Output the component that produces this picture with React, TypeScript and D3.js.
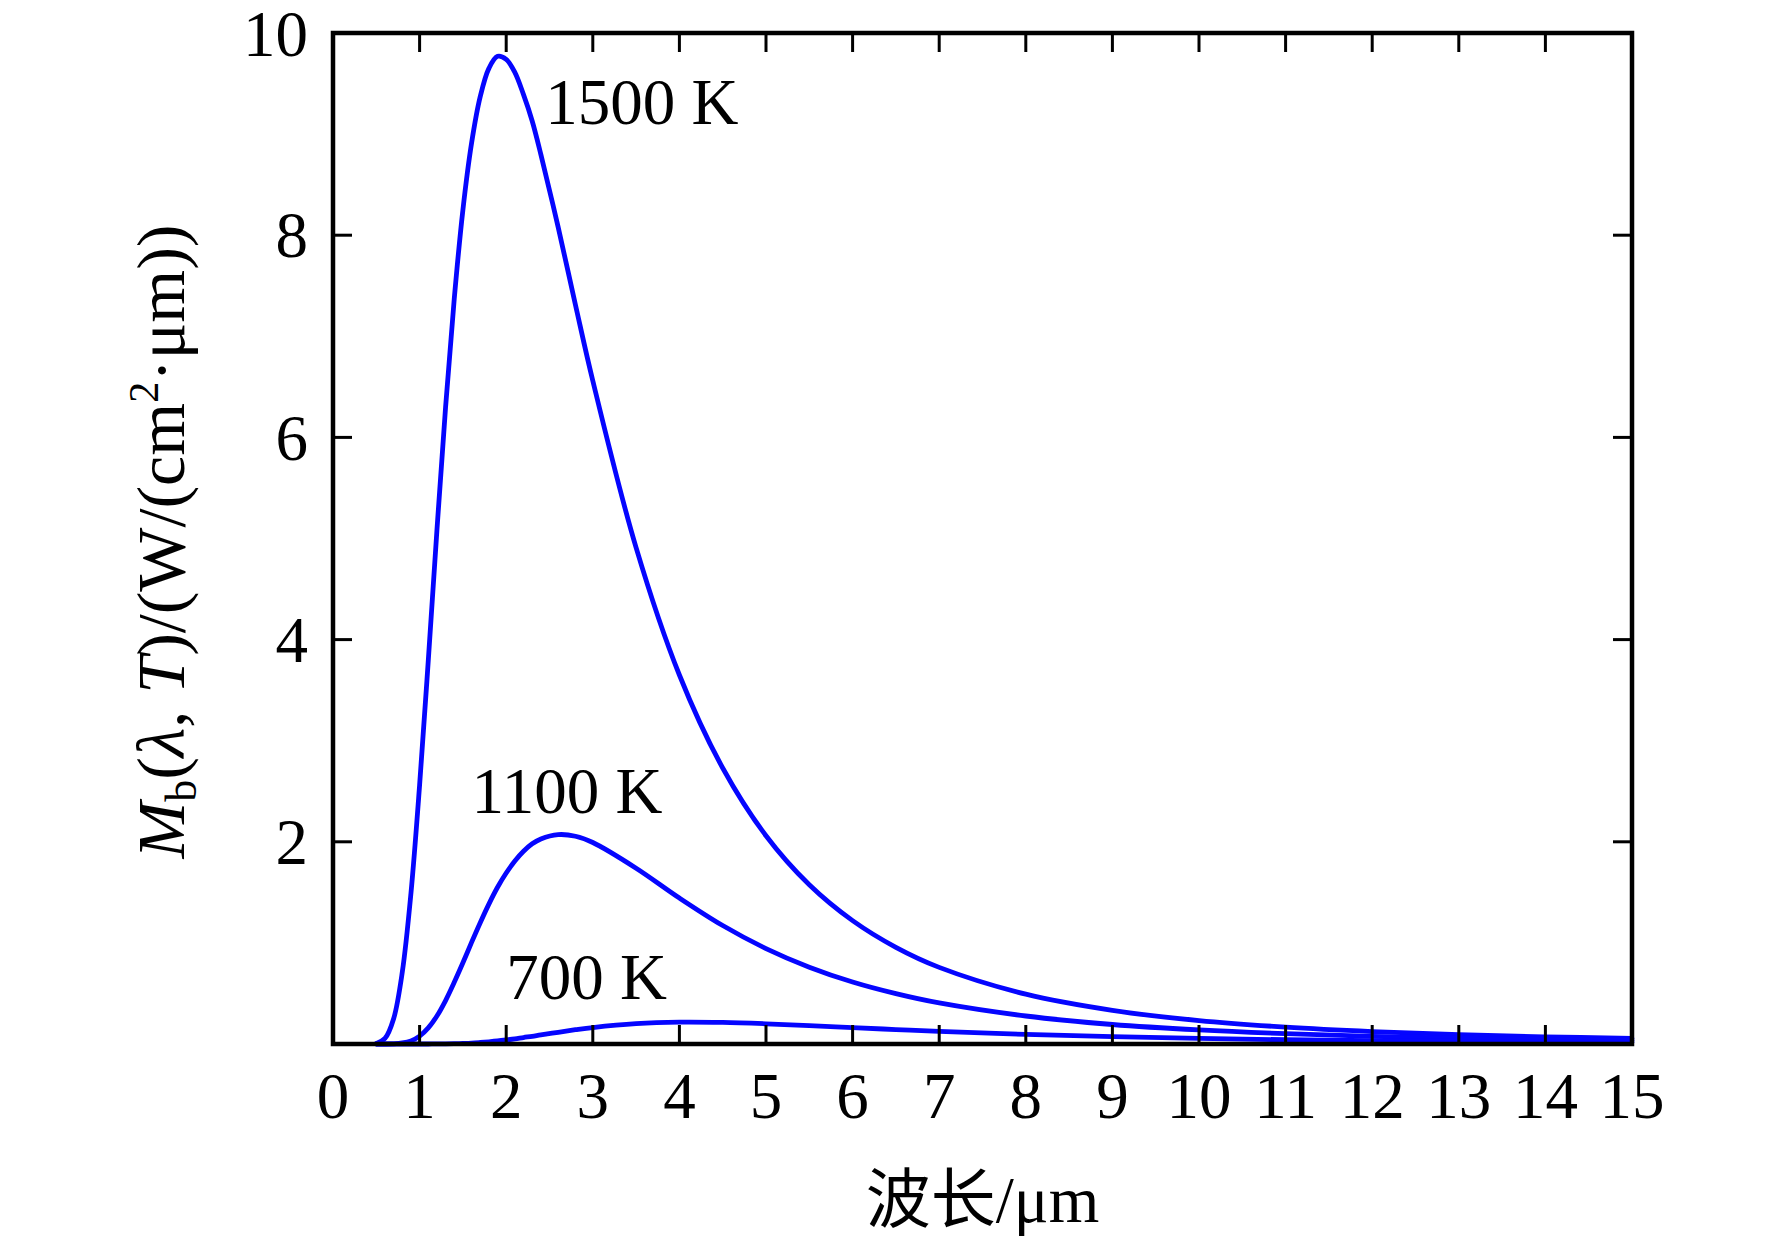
import * as d3 from 'd3';
import { type FC } from 'react';

// wavelength samples, μm
const wavelengths = [
  0.5, 0.6, 0.7, 0.8, 0.9, 1.0, 1.1, 1.2, 1.3, 1.4, 1.5, 1.6, 1.7, 1.8, 1.9, 2.0, 2.1, 2.2, 2.3,
  2.4, 2.6, 2.8, 3.0, 3.5, 4.0, 4.5, 5, 5.5, 6, 6.5, 7, 8, 9, 10, 11, 12, 13, 14, 15,
];

// spectral exitance, W/(cm²·μm)
const m1500 = [
  0.006, 0.055, 0.25, 0.71, 1.49, 2.56, 3.79, 5.08, 6.3, 7.37, 8.25, 8.91, 9.37, 9.65, 9.77, 9.74,
  9.61, 9.39, 9.13, 8.8, 8.08, 7.31, 6.56, 4.91, 3.65, 2.73, 2.06, 1.575, 1.22, 0.956, 0.758, 0.493,
  0.333, 0.232, 0.167, 0.123, 0.092, 0.071, 0.055,
];
const m1100 = [
  0, 0, 0.002, 0.01, 0.031, 0.078, 0.159, 0.277, 0.43, 0.61, 0.803, 1.005, 1.2, 1.384, 1.55, 1.691,
  1.81, 1.906, 1.98, 2.028, 2.071, 2.055, 1.993, 1.739, 1.444, 1.172, 0.944, 0.76, 0.613, 0.498,
  0.406, 0.277, 0.193, 0.139, 0.102, 0.076, 0.058, 0.045, 0.035,
];
const m700 = [
  0, 0, 0, 0, 0, 0, 0, 0.001, 0.002, 0.003, 0.0055, 0.009, 0.015, 0.022, 0.03, 0.04, 0.051, 0.064,
  0.076, 0.09, 0.116, 0.141, 0.163, 0.201, 0.216, 0.213, 0.2, 0.182, 0.162, 0.143, 0.125, 0.095,
  0.072, 0.055, 0.042, 0.033, 0.026, 0.021, 0.017,
];

const series = [
  { name: '1500 K', values: m1500, labelAt: [2.45, 9.1] },
  { name: '1100 K', values: m1100, labelAt: [1.6, 2.28] },
  { name: '700 K', values: m700, labelAt: [2.0, 0.45] },
];

const xTicks = d3.range(0, 16);
const yTicks = [2, 4, 6, 8, 10];

const width = 1772;
const height = 1242;
const marginLeft = 333;
const marginRight = 140;
const marginTop = 33;
const marginBottom = 198;

const serif = '"Liberation Serif", "Times New Roman", "Noto Sans CJK SC", serif';

const App: FC = () => {
  const x = d3.scaleLinear([0, 15], [marginLeft, width - marginRight]);
  const y = d3.scaleLinear([0, 10], [height - marginBottom, marginTop]);

  const line = d3
    .line<number>((_d, i) => x(wavelengths[i]), (d) => y(d))
    .curve(d3.curveCatmullRom.alpha(0.5));

  const x0 = x(0);
  const x1 = x(15);
  const y0 = y(0);
  const y1 = y(10);
  const tick = 19;

  return (
    <>
      <style>{'body{margin:0}'}</style>
      <svg width={width} height={height} viewBox={`0 0 ${width} ${height}`} style={{ display: 'block' }}>
        <rect width={width} height={height} fill='#fff' />
        <g fill='none' stroke='#0505ff' strokeWidth={4.8} strokeLinejoin='round' strokeLinecap='round'>
          {series.map((s) => (
            <path key={s.name} d={line(s.values) ?? undefined} />
          ))}
        </g>

        <g stroke='#000' strokeWidth={3}>
          {xTicks.slice(1, -1).map((t) => (
            <g key={t}>
              <line x1={x(t)} x2={x(t)} y1={y0} y2={y0 - tick} />
              <line x1={x(t)} x2={x(t)} y1={y1} y2={y1 + tick} />
            </g>
          ))}
          {yTicks.slice(0, -1).map((t) => (
            <g key={t}>
              <line x1={x0} x2={x0 + tick} y1={y(t)} y2={y(t)} />
              <line x1={x1} x2={x1 - tick} y1={y(t)} y2={y(t)} />
            </g>
          ))}
        </g>
        <rect x={x0} y={y1} width={x1 - x0} height={y0 - y1} fill='none' stroke='#000' strokeWidth={4.5} />

        <g fontFamily={serif} fontSize={65} fill='#000'>
          {xTicks.map((t) => (
            <text key={t} x={x(t)} y={1118} textAnchor='middle'>
              {t}
            </text>
          ))}
          {yTicks.map((t) => (
            <text key={t} x={308} y={y(t)} dy={t === 10 ? '0.36em' : '0.34em'} textAnchor='end'>
              {t}
            </text>
          ))}
          {series.map((s) => (
            <text key={s.name} x={x(s.labelAt[0])} y={y(s.labelAt[1])}>
              {s.name}
            </text>
          ))}
          <text x={(x0 + x1) / 2} y={1222} textAnchor='middle'>
            波长/μm
          </text>
          <text transform={`translate(184, ${(y0 + y1) / 2 + 3}) rotate(-90)`} textAnchor='middle' fontSize={68}>
            <tspan fontStyle='italic'>M</tspan>
            <tspan fontSize={44} dy={12}>b</tspan>
            <tspan dy={-12}>(</tspan>
            <tspan fontStyle='italic'>λ</tspan>
            <tspan>, </tspan>
            <tspan fontStyle='italic'>T</tspan>
            <tspan>)/(W/(cm</tspan>
            <tspan fontSize={42} dy={-26}>2</tspan>
            <tspan dy={26}>·μm))</tspan>
          </text>
        </g>
      </svg>
    </>
  );
};

export default App;
